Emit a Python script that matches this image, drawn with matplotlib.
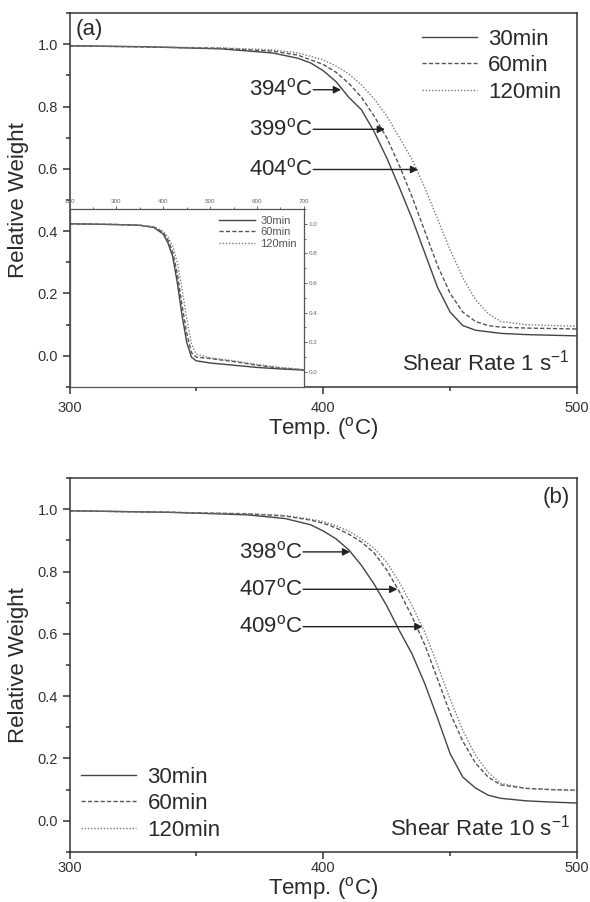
import numpy as np
import matplotlib
matplotlib.use("Agg")
import matplotlib.pyplot as plt
from matplotlib.ticker import MultipleLocator

plt.rcParams['font.family'] = 'Liberation Sans'
plt.rcParams['mathtext.fontset'] = 'custom'
plt.rcParams['mathtext.rm'] = 'Liberation Sans'

# ---- panel (a): shear rate 1 s-1 ----
t_a30 = [300, 330, 360, 380, 390, 395, 400, 405, 410, 415, 420, 425, 430, 435, 440, 445, 450, 455, 460, 470, 480, 490, 500]
w_a30 = [0.995, 0.992, 0.985, 0.972, 0.955, 0.94, 0.915, 0.88, 0.83, 0.79, 0.72, 0.635, 0.54, 0.44, 0.33, 0.22, 0.14, 0.097, 0.082, 0.072, 0.068, 0.066, 0.064]
t_a60 = [300, 360, 380, 390, 400, 405, 410, 415, 420, 425, 430, 435, 440, 445, 450, 455, 460, 465, 470, 480, 500]
w_a60 = [0.995, 0.987, 0.978, 0.965, 0.935, 0.91, 0.875, 0.83, 0.77, 0.70, 0.61, 0.51, 0.40, 0.29, 0.20, 0.14, 0.11, 0.097, 0.092, 0.089, 0.086]
t_a120 = [300, 360, 380, 390, 400, 405, 410, 415, 420, 425, 430, 435, 440, 445, 450, 455, 460, 465, 470, 480, 490, 500]
w_a120 = [0.995, 0.988, 0.982, 0.972, 0.95, 0.93, 0.905, 0.87, 0.825, 0.77, 0.70, 0.63, 0.54, 0.44, 0.34, 0.25, 0.18, 0.135, 0.11, 0.10, 0.097, 0.095]

# inset of panel (a), wide temperature range
t_in = [200, 300, 350, 380, 400, 410, 420, 430, 440, 450, 460, 470, 500, 550, 600, 650, 700]
w_in30 = [1.0, 0.995, 0.99, 0.975, 0.93, 0.87, 0.78, 0.60, 0.38, 0.20, 0.10, 0.075, 0.06, 0.045, 0.03, 0.02, 0.012]
w_in60 = [1.0, 0.995, 0.99, 0.978, 0.94, 0.89, 0.81, 0.66, 0.45, 0.26, 0.13, 0.10, 0.09, 0.07, 0.045, 0.025, 0.014]
w_in120 = [1.0, 0.995, 0.99, 0.98, 0.95, 0.91, 0.85, 0.74, 0.56, 0.36, 0.19, 0.12, 0.095, 0.075, 0.05, 0.03, 0.016]

# ---- panel (b): shear rate 10 s-1 ----
t_b30 = [300, 340, 370, 385, 395, 400, 405, 410, 415, 420, 425, 430, 435, 440, 445, 450, 455, 460, 465, 470, 480, 490, 500]
w_b30 = [0.995, 0.99, 0.982, 0.97, 0.95, 0.93, 0.905, 0.87, 0.82, 0.76, 0.69, 0.61, 0.535, 0.44, 0.33, 0.215, 0.14, 0.105, 0.082, 0.072, 0.064, 0.06, 0.057]
t_b60 = [300, 340, 370, 385, 395, 400, 405, 410, 415, 420, 425, 430, 435, 440, 445, 450, 455, 460, 465, 470, 480, 490, 500]
w_b60 = [0.995, 0.99, 0.985, 0.978, 0.965, 0.955, 0.94, 0.92, 0.895, 0.86, 0.805, 0.735, 0.655, 0.565, 0.455, 0.345, 0.255, 0.185, 0.14, 0.115, 0.104, 0.10, 0.098]
t_b120 = [300, 370, 385, 395, 400, 405, 410, 415, 420, 425, 430, 435, 440, 445, 450, 455, 460, 465, 470, 480, 490, 500]
w_b120 = [0.995, 0.986, 0.98, 0.968, 0.96, 0.947, 0.93, 0.905, 0.875, 0.83, 0.765, 0.69, 0.605, 0.50, 0.39, 0.29, 0.21, 0.155, 0.12, 0.104, 0.10, 0.098]

series_names = ['30min', '60min', '120min']

# onset labels and where the arrows point
onset_a = ['394', '399', '404']
tip_a_x = [407, 424.3, 437.4]
tip_a_y = [0.854, 0.727, 0.598]
onset_b = ['398', '407', '409']
tip_b_x = [410.6, 429.2, 439.1]
tip_b_y = [0.863, 0.743, 0.623]

styles = [dict(color='#444444', ls='-', lw=1.0),
          dict(color='#555555', ls=(0, (3, 1.6)), lw=1.0),
          dict(color='#7a7a7a', ls=(0, (1, 1.3)), lw=1.0)]
txt_c = '#2a2a2a'
fs = 16


def style_main(ax, tpad, lpad):
    ax.set_xlim(300, 500)
    ax.set_ylim(-0.1, 1.1)
    ax.xaxis.set_major_locator(MultipleLocator(100))
    ax.xaxis.set_minor_locator(MultipleLocator(50))
    ax.yaxis.set_major_locator(MultipleLocator(0.2))
    ax.yaxis.set_minor_locator(MultipleLocator(0.1))
    ax.yaxis.set_major_formatter(plt.FormatStrFormatter('%.1f'))
    ax.tick_params(which='both', direction='out', top=False, right=False, labelsize=10.5,
                   colors='#333333', width=1.1)
    ax.tick_params(which='major', length=5)
    ax.tick_params(which='minor', length=3)
    ax.tick_params(axis='x', pad=tpad)
    for s in ax.spines.values():
        s.set_color('#333333')
        s.set_linewidth(1.1)
    ax.set_xlabel(r'Temp. ($\mathrm{^{o}C}$)', fontsize=fs, color=txt_c, labelpad=lpad)
    ax.set_ylabel('Relative Weight', fontsize=fs, color=txt_c, labelpad=6)


def arrows(ax, labels, xs, ys, x0):
    for lab, x, y in zip(labels, xs, ys):
        ax.annotate('', xy=(x, y), xytext=(x0, y),
                    arrowprops=dict(arrowstyle='-|>', color='#222222', lw=1.0,
                                    mutation_scale=11, shrinkA=0, shrinkB=0))
        ax.text(x0 - 0.3, y, r'$\mathrm{' + lab + r'^{o}C}$', fontsize=fs, color=txt_c,
                ha='right', va='center')


fig = plt.figure(figsize=(5.9, 9.02), dpi=100)

# panel (a)
ax1 = fig.add_axes([0.118, 0.571, 0.860, 0.4145])
for t, w, st, nm in zip([t_a30, t_a60, t_a120], [w_a30, w_a60, w_a120], styles, series_names):
    ax1.plot(t, w, label=nm, **st)
style_main(ax1, 5, 0)
arrows(ax1, onset_a, tip_a_x, tip_a_y, 396)
ax1.text(0.012, 0.985, '(a)', transform=ax1.transAxes, fontsize=fs, color=txt_c, ha='left', va='top')
ax1.text(0.985, 0.03, r'Shear Rate 1 $\mathrm{s^{-1}}$', transform=ax1.transAxes, fontsize=fs,
         color=txt_c, ha='right', va='bottom')
leg = ax1.legend(loc='upper right', frameon=False, fontsize=fs, handlelength=2.5,
                 handletextpad=0.5, labelspacing=0.25, borderaxespad=0.3)
for tx in leg.get_texts():
    tx.set_color(txt_c)

# inset in panel (a)
axin = fig.add_axes([0.118, 0.5713, 0.397, 0.197])
for w, st, nm in zip([w_in30, w_in60, w_in120], styles, series_names):
    axin.plot(t_in, w, label=nm, **st)
axin.set_xlim(200, 700)
axin.set_ylim(-0.1, 1.1)
axin.xaxis.set_major_locator(MultipleLocator(100))
axin.xaxis.set_minor_locator(MultipleLocator(50))
axin.yaxis.set_major_locator(MultipleLocator(0.2))
axin.yaxis.set_minor_locator(MultipleLocator(0.1))
axin.yaxis.set_major_formatter(plt.FormatStrFormatter('%.1f'))
axin.xaxis.tick_top()
axin.yaxis.tick_right()
axin.tick_params(which='both', direction='out', labelsize=4.5, colors='#666666', width=0.7, pad=1)
axin.tick_params(which='major', length=2.5)
axin.tick_params(which='minor', length=1.5)
for s in axin.spines.values():
    s.set_color('#555555')
    s.set_linewidth(0.9)
lin = axin.legend(loc='upper right', frameon=False, fontsize=8, handlelength=3.2,
                  handletextpad=0.5, labelspacing=0.15, borderaxespad=0.2)
for tx in lin.get_texts():
    tx.set_color('#555555')

# panel (b)
ax2 = fig.add_axes([0.118, 0.0555, 0.860, 0.4145])
for t, w, st, nm in zip([t_b30, t_b60, t_b120], [w_b30, w_b60, w_b120], styles, series_names):
    ax2.plot(t, w, label=nm, **st)
style_main(ax2, 1.5, 0)
arrows(ax2, onset_b, tip_b_x, tip_b_y, 392)
ax2.text(0.985, 0.975, '(b)', transform=ax2.transAxes, fontsize=fs, color=txt_c, ha='right', va='top')
ax2.text(0.985, 0.03, r'Shear Rate 10 $\mathrm{s^{-1}}$', transform=ax2.transAxes, fontsize=fs,
         color=txt_c, ha='right', va='bottom')
leg2 = ax2.legend(loc='lower left', frameon=False, fontsize=fs, handlelength=2.5,
                  handletextpad=0.5, labelspacing=0.25, borderaxespad=0.1)
for tx in leg2.get_texts():
    tx.set_color(txt_c)

fig.savefig('out.png', dpi=100)
